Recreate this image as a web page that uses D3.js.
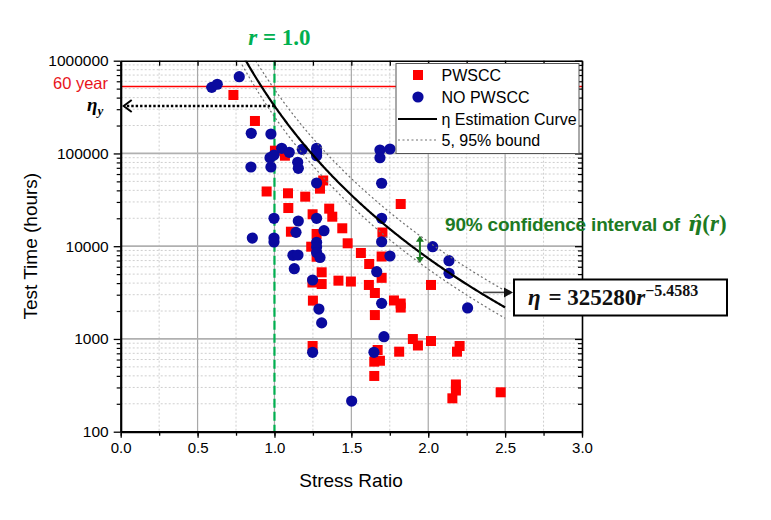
<!DOCTYPE html>
<html><head><meta charset="utf-8">
<script src="https://cdn.jsdelivr.net/npm/d3@7"></script>
<style>body{margin:0;background:#fff}svg{display:block}</style>
</head><body><svg id="c" width="771" height="520"></svg>
<script>
// ---- data ----
const pwsccR = [0.733,0.873,1.003,1.068,0.949,1.088,1.200,1.317,1.296,1.090,1.356,1.376,1.248,1.821,1.107,1.274,1.441,1.702,1.476,1.239,1.274,1.562,1.616,1.697,1.307,1.697,1.416,1.497,1.614,1.653,1.247,1.307,2.018,1.250,1.777,1.821,1.821,1.653,1.900,1.933,2.018,1.811,1.671,1.248,2.204,2.187,1.649,1.686,1.649,2.180,2.180,2.157,2.471];
const pwsccT = [426800,223900,107100,94600,38900,37200,34200,51100,41700,25800,25400,20800,22100,28500,14330,13540,15600,14050,10750,9880,7700,8450,6430,7740,5230,4560,4250,4160,3820,3130,4060,3910,3820,2590,2600,2410,2180,1810,998,850,950,729,760,839,839,729,569,582,399,323,278,229,266];
const noR = [0.592,0.628,0.771,0.849,0.977,0.847,0.977,0.971,0.997,1.047,1.096,1.181,1.274,1.274,1.274,1.686,1.751,1.686,1.151,1.155,1.274,1.697,0.997,1.155,1.274,1.697,0.856,0.997,0.997,1.140,1.322,1.274,1.274,1.697,1.120,1.153,1.274,1.296,1.751,1.129,1.665,1.248,1.697,1.289,1.307,2.256,1.712,1.248,1.647,1.502,2.029,2.135,2.135];
const noT = [516000,557000,672000,164900,162100,71400,71400,90000,96200,113600,102900,110900,113600,104400,94600,108900,111700,90000,80300,69200,48000,47700,20000,18700,20000,20000,12250,12250,11100,14100,14700,11020,9800,11170,7980,8040,8550,7550,7840,5720,5310,4320,2420,2100,1490,2160,1057,718,718,214,9880,6980,5100];
const curveA = 325280, curveB = 5.4583, curveEnd = 2.5;
const boundFactors = [0.765, 1.51];   // 5% and 95% bounds relative to estimate
const sixtyYearHours = 525600;
const rLine = 1.0;
const ciR = 1.946;
const xTicks = [0,0.5,1,1.5,2,2.5,3];
const yTicks = [100,1000,10000,100000,1000000];
const legendLabels = ["PWSCC","NO PWSCC","\u03B7 Estimation Curve","5, 95% bound"];

// ---- layout ----
const L=120.7, R=582, T=60.7, B=431.7;
const svg = d3.select("#c");
const x = d3.scaleLinear().domain([0,3]).range([L,R]);
const y = d3.scaleLog().domain([100,1e6]).range([B,T]);
const RED="#ff0000", NAVY="#0a0a9e", GREEN="#00b050", DGREEN="#1d7a23";
const sans="Arial, 'Liberation Sans', sans-serif";
const serif="'Liberation Serif','Times New Roman',serif";

const xMinor = d3.range(0,3.0001,0.25);
const yMinor = [];
for (let e=2;e<6;e++) for (let m=2;m<10;m++) yMinor.push(m*Math.pow(10,e));

// grid
const g = svg.append("g");
g.selectAll(".vmin").data(xMinor.filter(v=>Math.abs(v*2-Math.round(v*2))>1e-6)).join("line")
 .attr("x1",d=>x(d)).attr("x2",d=>x(d)).attr("y1",T).attr("y2",B)
 .attr("stroke","#cfcfcf").attr("stroke-dasharray","2,2").attr("stroke-width",1);
g.selectAll(".hmin").data(yMinor).join("line")
 .attr("y1",d=>y(d)).attr("y2",d=>y(d)).attr("x1",L).attr("x2",R)
 .attr("stroke","#cfcfcf").attr("stroke-dasharray","2,2").attr("stroke-width",1);
g.selectAll(".vmaj").data(xTicks.slice(1,-1)).join("line")
 .attr("x1",d=>x(d)).attr("x2",d=>x(d)).attr("y1",T).attr("y2",B)
 .attr("stroke","#a8a8a8").attr("stroke-width",1.2);
g.selectAll(".hmaj").data(yTicks.slice(1,-1)).join("line")
 .attr("y1",d=>y(d)).attr("y2",d=>y(d)).attr("x1",L).attr("x2",R)
 .attr("stroke","#b0b0b0").attr("stroke-width",1.8);

svg.append("clipPath").attr("id","clip").append("rect").attr("x",L).attr("y",T).attr("width",R-L).attr("height",B-T);
const plot = svg.append("g").attr("clip-path","url(#clip)");

plot.append("line").attr("x1",L).attr("x2",R).attr("y1",y(sixtyYearHours)).attr("y2",y(sixtyYearHours))
 .attr("stroke",RED).attr("stroke-width",1.5);

plot.append("line").attr("x1",x(rLine)).attr("x2",x(rLine)).attr("y1",T).attr("y2",B)
 .attr("stroke",GREEN).attr("stroke-width",2.2).attr("stroke-dasharray","9,4");

plot.selectAll(".sq").data(pwsccR.map((r,i)=>[r,pwsccT[i]])).join("rect")
 .attr("x",d=>x(d[0])-5).attr("y",d=>y(d[1])-5).attr("width",10).attr("height",10).attr("fill",RED);
plot.selectAll(".ci").data(noR.map((r,i)=>[r,noT[i]])).join("circle")
 .attr("cx",d=>x(d[0])).attr("cy",d=>y(d[1])).attr("r",5.6).attr("fill",NAVY);

const rStart = Math.pow(curveA/1e6, 1/curveB)*0.97;
const rs = d3.range(rStart, curveEnd+1e-9, 0.005);
const line = f => d3.line().x(r=>x(r)).y(r=>y(f*curveA*Math.pow(r,-curveB)))(rs);
boundFactors.forEach(f=>{
  plot.append("path").attr("d",line(f)).attr("fill","none").attr("stroke","#707070")
   .attr("stroke-width",1.2).attr("stroke-dasharray","2,2.5");
});
plot.append("path").attr("d",line(1)).attr("fill","none").attr("stroke","#000").attr("stroke-width",2.2);

const etaY = curveA*Math.pow(rLine,-curveB);
svg.append("line").attr("x1",x(rLine)).attr("x2",L+4).attr("y1",y(etaY)).attr("y2",y(etaY))
 .attr("stroke","#000").attr("stroke-width",2.4).attr("stroke-dasharray","2.4,2");
svg.append("path").attr("d",`M${L+11},${y(etaY)-6}L${L+3},${y(etaY)}L${L+11},${y(etaY)+6}`)
 .attr("fill","none").attr("stroke","#000").attr("stroke-width",2);

const ciMid = curveA*Math.pow(ciR,-curveB);
const cy1 = y(ciMid*boundFactors[1]), cy2 = y(ciMid*boundFactors[0]), cx = x(ciR);
svg.append("line").attr("x1",cx).attr("x2",cx).attr("y1",cy1+4).attr("y2",cy2-4).attr("stroke",DGREEN).attr("stroke-width",2);
svg.append("path").attr("d",`M${cx-4},${cy1+6}L${cx},${cy1}L${cx+4},${cy1+6}Z`).attr("fill",DGREEN);
svg.append("path").attr("d",`M${cx-4},${cy2-6}L${cx},${cy2}L${cx+4},${cy2-6}Z`).attr("fill",DGREEN);

function styleAxis(sel,w){ sel.select(".domain").attr("stroke","#000").attr("stroke-width",w);
  sel.selectAll(".tick line").attr("stroke","#000").attr("stroke-width",1.3);
  sel.selectAll("text").attr("font-family",sans).attr("font-size",15).attr("fill","#000"); }
const ax = svg.append("g").attr("transform",`translate(0,${B})`)
 .call(d3.axisBottom(x).tickValues(xTicks).tickFormat(d3.format(".1f")).tickSize(6).tickPadding(5).tickSizeOuter(0));
styleAxis(ax,2.2);
svg.append("g").attr("transform",`translate(0,${B})`)
 .call(d3.axisBottom(x).tickValues(xMinor).tickFormat("").tickSize(4).tickSizeOuter(0))
 .call(s=>{s.select(".domain").remove(); s.selectAll("line").attr("stroke","#000").attr("stroke-width",1.3);});
const ay = svg.append("g").attr("transform",`translate(${L},0)`)
 .call(d3.axisLeft(y).tickValues(yTicks).tickFormat(d3.format("d")).tickSize(7).tickPadding(5).tickSizeOuter(0));
styleAxis(ay,2.2);
ay.selectAll("text").attr("font-size",15.5);
svg.append("g").attr("transform",`translate(${L},0)`)
 .call(d3.axisLeft(y).tickValues(yMinor).tickFormat("").tickSize(4).tickSizeOuter(0))
 .call(s=>{s.select(".domain").remove(); s.selectAll("line").attr("stroke","#000").attr("stroke-width",1.2);});
const ar = svg.append("g").attr("transform",`translate(${R},0)`)
 .call(d3.axisLeft(y).tickValues(yTicks).tickFormat("").tickSize(7).tickSizeOuter(0));
styleAxis(ar,1.6);
svg.append("g").attr("transform",`translate(${R},0)`)
 .call(d3.axisLeft(y).tickValues(yMinor).tickFormat("").tickSize(4).tickSizeOuter(0))
 .call(s=>{s.select(".domain").remove(); s.selectAll("line").attr("stroke","#000").attr("stroke-width",1.2);});
const at = svg.append("g").attr("transform",`translate(0,${T})`)
 .call(d3.axisBottom(x).tickValues(xMinor).tickFormat("").tickSize(5).tickSizeOuter(0));
styleAxis(at,1.6);

svg.append("text").attr("x",351).attr("y",487).attr("text-anchor","middle")
 .attr("font-family",sans).attr("font-size",19).text("Stress Ratio");
svg.append("text").attr("transform",`translate(37,${(T+B)/2}) rotate(-90)`).attr("text-anchor","middle")
 .attr("font-family",sans).attr("font-size",19).text("Test Time (hours)");

svg.append("text").attr("x",108).attr("y",y(sixtyYearHours)+2).attr("text-anchor","end")
 .attr("font-family",sans).attr("font-size",16.5).attr("fill","#e8141a").text("60 year");
const ey = svg.append("text").attr("x",87).attr("y",y(etaY)+5).attr("font-family",serif).attr("font-weight","bold").attr("font-style","italic").attr("font-size",19);
ey.append("tspan").text("\u03B7");
ey.append("tspan").attr("font-size",13).attr("dy",4).text("y");

const rl = svg.append("text").attr("x",x(rLine)+5).attr("y",45).attr("text-anchor","middle").attr("font-family",serif)
 .attr("font-weight","bold").attr("font-size",23).attr("fill",GREEN);
rl.append("tspan").attr("font-style","italic").text("r");
rl.append("tspan").text(" = 1.0");

const ct = svg.append("text").attr("x",445).attr("y",231).attr("font-family",sans).attr("font-weight","bold")
 .attr("font-size",19).attr("fill",DGREEN);
ct.append("tspan").attr("textLength",235).attr("lengthAdjust","spacing").text("90% confidence interval of");
ct.append("tspan").attr("dx",8).attr("font-family","'DejaVu Serif', serif").attr("font-size",20).attr("font-style","italic").text("\u03B7\u0302");
ct.append("tspan").attr("font-family",serif).attr("font-size",23).text("(");
ct.append("tspan").attr("font-family",serif).attr("font-size",23).attr("font-style","italic").text("r");
ct.append("tspan").attr("font-family",serif).attr("font-size",23).text(")");

const ay0 = y(curveA*Math.pow(curveEnd,-curveB)) - 15;
svg.append("line").attr("x1",x(curveEnd)-22).attr("x2",506).attr("y1",ay0).attr("y2",ay0).attr("stroke","#444").attr("stroke-width",1.6);
svg.append("path").attr("d",`M${504},${ay0-5}L${513},${ay0}L${504},${ay0+5}Z`).attr("fill","#111");
svg.append("rect").attr("x",514).attr("y",279.5).attr("width",213).attr("height",36).attr("fill","#fff").attr("stroke","#000").attr("stroke-width",2);
const eq = svg.append("text").attr("x",528).attr("y",305).attr("font-family",serif).attr("font-weight","bold").attr("font-size",23).attr("fill","#111");
eq.append("tspan").attr("font-style","italic").text("\u03B7");
eq.append("tspan").attr("dx",2).text(" = 325280");
eq.append("tspan").attr("font-style","italic").text("r");
eq.append("tspan").attr("font-size",16).attr("dy",-9).text("\u22125.4583");

const lg = svg.append("g");
lg.append("rect").attr("x",396).attr("y",63.5).attr("width",183).attr("height",90).attr("fill","#fff").attr("stroke","#555").attr("stroke-width",1);
const ly = [75,97,119,140];
lg.append("rect").attr("x",413).attr("y",ly[0]-5).attr("width",10).attr("height",10).attr("fill",RED);
lg.append("circle").attr("cx",418).attr("cy",ly[1]).attr("r",5.6).attr("fill",NAVY);
lg.append("line").attr("x1",398).attr("x2",437).attr("y1",ly[2]).attr("y2",ly[2]).attr("stroke","#000").attr("stroke-width",2.2);
lg.append("line").attr("x1",398).attr("x2",437).attr("y1",ly[3]).attr("y2",ly[3]).attr("stroke","#707070").attr("stroke-width",1.2).attr("stroke-dasharray","2,2.5");
lg.selectAll(".lt").data(legendLabels).join("text").attr("x",441.5).attr("y",(d,i)=>ly[i]+6)
 .attr("font-family",sans).attr("font-size",16).attr("fill","#000").text(d=>d);
</script></body></html>
